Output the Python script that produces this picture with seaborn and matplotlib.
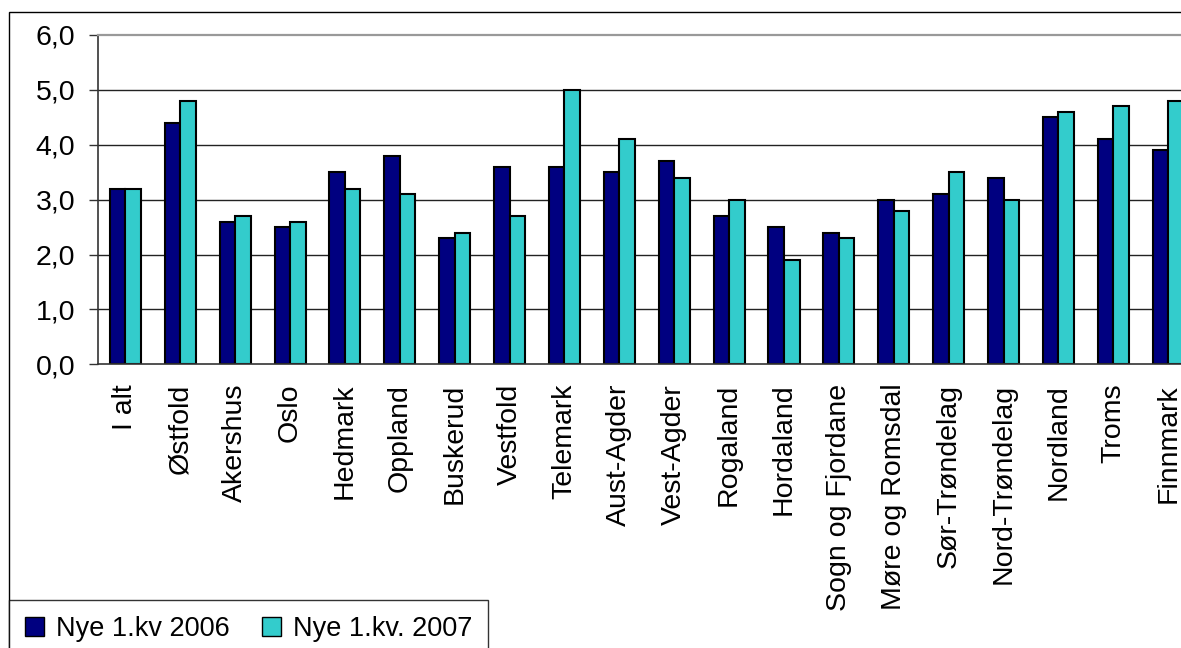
import matplotlib
matplotlib.use("Agg")
import matplotlib.pyplot as plt
from matplotlib.patches import Patch, Rectangle
from matplotlib.ticker import FixedLocator
import seaborn as sns
import pandas as pd
import numpy as np

regions = ["I alt", "Østfold", "Akershus", "Oslo", "Hedmark", "Oppland", "Buskerud",
           "Vestfold", "Telemark", "Aust-Agder", "Vest-Agder", "Rogaland", "Hordaland",
           "Sogn og Fjordane", "Møre og Romsdal", "Sør-Trøndelag", "Nord-Trøndelag",
           "Nordland", "Troms", "Finnmark"]
nye_2006 = [3.2, 4.4, 2.6, 2.5, 3.5, 3.8, 2.3, 3.6, 3.6, 3.5, 3.7, 2.7, 2.5, 2.4,
            3.0, 3.1, 3.4, 4.5, 4.1, 3.9]
nye_2007 = [3.2, 4.8, 2.7, 2.6, 3.2, 3.1, 2.4, 2.7, 5.0, 4.1, 3.4, 3.0, 1.9, 2.3,
            2.8, 3.5, 3.0, 4.6, 4.7, 4.8]
series = ["Nye 1.kv 2006", "Nye 1.kv. 2007"]
colors = ["#000080", "#33CCCC"]
y_ticks = [0, 1, 2, 3, 4, 5, 6]

df = pd.DataFrame({
    "Region": regions * 2,
    "Verdi": nye_2006 + nye_2007,
    "Serie": [series[0]] * len(regions) + [series[1]] * len(regions),
})

sns.set_style("white")
plt.rcParams["font.family"] = ["Liberation Sans", "DejaVu Sans"]
plt.rcParams["text.color"] = "black"
plt.rcParams["xtick.color"] = "black"
plt.rcParams["ytick.color"] = "black"

FS = 20.5

fig = plt.figure(figsize=(11.81, 6.48), dpi=100)
ax = fig.add_axes([98 / 1181, 0.4378, 1097.6 / 1181, 0.5082])

sns.barplot(data=df, x="Region", y="Verdi", hue="Serie", palette=colors, saturation=1,
            width=0.565, edgecolor="black", linewidth=1.5, ax=ax, legend=False)

ax.set_xlim(-0.5, len(regions) - 0.5)
ax.set_ylim(0, 6)
ax.set_yticks(y_ticks)
ax.set_yticklabels([f"{v:.1f}".replace(".", ",") for v in y_ticks], fontsize=FS)
ax.set_xticks(range(len(regions)))
ax.set_xticklabels(regions, rotation=90, fontsize=FS)
ax.set_xlabel("")
ax.set_ylabel("")

# small tick marks between the categories
ax.xaxis.set_minor_locator(FixedLocator(np.arange(-0.5, len(regions), 1.0)))
ax.tick_params(axis="x", which="major", length=0, pad=14)
ax.tick_params(axis="x", which="minor", length=6, width=1, color="#555555", direction="out")
ax.tick_params(axis="y", length=6.5, width=1, color="#333333", pad=10, direction="out")
ax.tick_params(left=True, bottom=True)

for v in y_ticks[1:-1]:
    ax.axhline(v, color="#222222", linewidth=1, zorder=0)
ax.spines["top"].set_color("#999999")
ax.spines["top"].set_linewidth(1.6)
ax.spines["left"].set_color("#333333")
ax.spines["bottom"].set_color("#333333")
ax.spines["right"].set_visible(False)
for s in ["left", "bottom"]:
    ax.spines[s].set_linewidth(1.2)

# outer chart frame
fig.patches.append(Rectangle((9 / 1181, -0.1), 1.2, 1.1 - 12 / 648, transform=fig.transFigure,
                             fill=False, edgecolor="black", linewidth=1, zorder=0))

handles = [Patch(facecolor=c, edgecolor="black", linewidth=1) for c in colors]
leg = fig.legend(handles, series, loc="upper left", bbox_to_anchor=(9 / 1181, 1 - 600 / 648),
                 ncol=2, fontsize=19.5, frameon=True, fancybox=False, edgecolor="black",
                 borderpad=0.6, handlelength=0.68, handleheight=0.68, handletextpad=0.45,
                 columnspacing=1.2, borderaxespad=0)
leg.get_frame().set_linewidth(1)

fig.savefig("out.png", dpi=100)
